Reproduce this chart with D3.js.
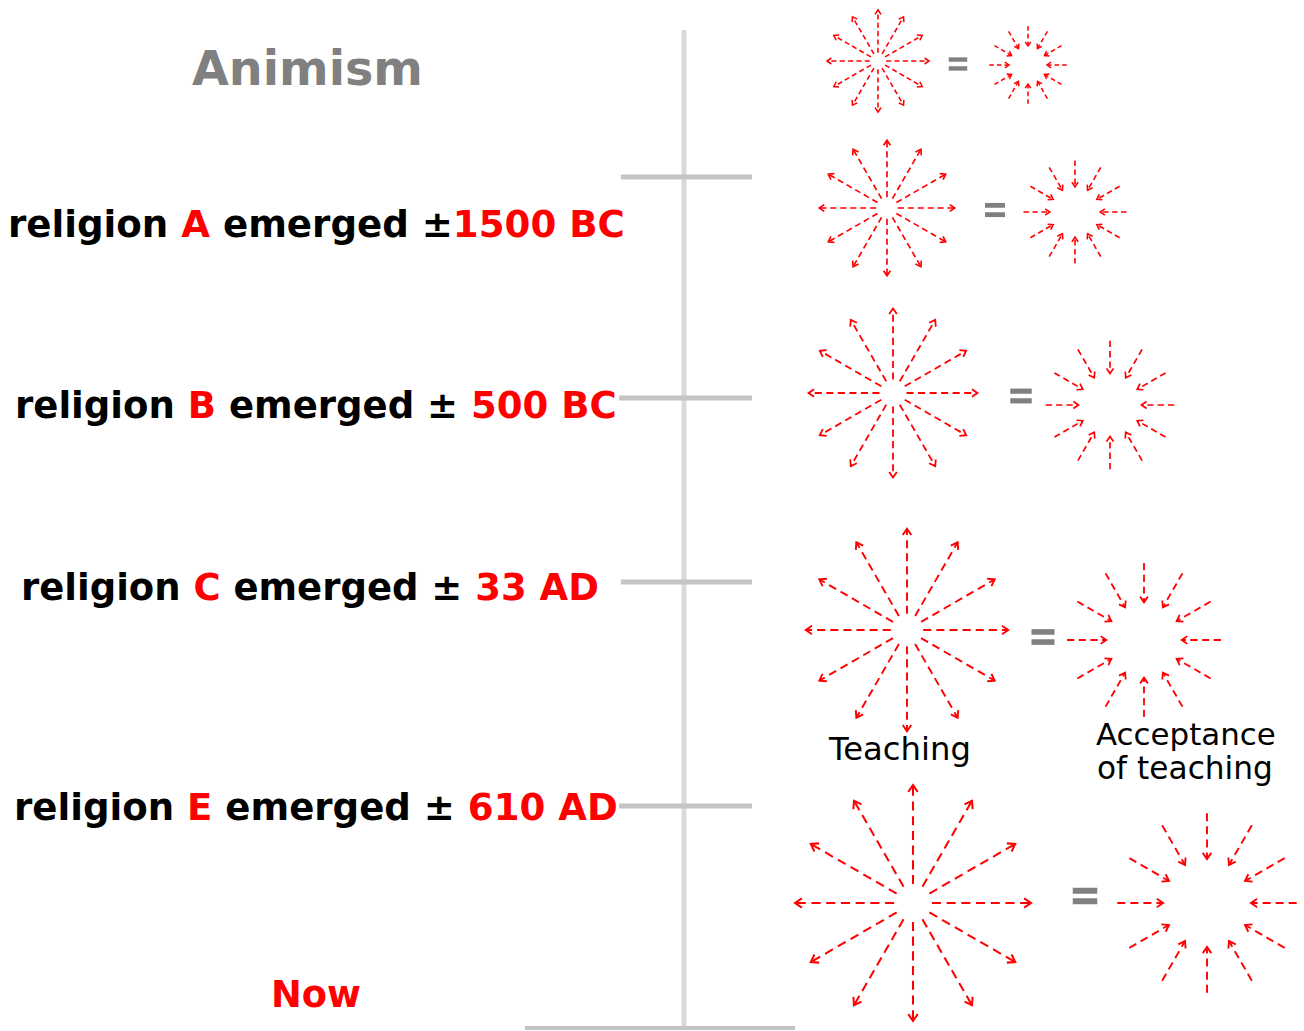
<!DOCTYPE html>
<html><head><meta charset="utf-8">
<script src="https://cdn.jsdelivr.net/npm/d3@7"></script>
<style>html,body{margin:0;padding:0;background:#fff;}svg{display:block;}</style>
</head><body>
<svg id="chart" width="1304" height="1031"></svg>
<script>
// ---------- DATA ----------
const title = "Animism";
const religionLetters = ["A", "B", "C", "E"];
const plusMinusTexts = ["±", "± ", "± ", "± "];
const emergedDates = ["1500 BC", "500 BC", "33 AD", "610 AD"];
const nowLabel = "Now";
const stages = [1, 2, 3, 4, 5];           // animism + 4 religions, growing reach
const teachingLabel = "Teaching";
const acceptanceLabel = ["Acceptance", "of teaching"];

// ---------- LAYOUT ----------
const W = 1304, H = 1031;
const svg = d3.select("#chart");
const red = "#ff0000", gray = "#808080";
const boldFont = "'DejaVu Sans', Verdana, sans-serif";

// timeline
const axisX = 684;
const tickY = [177, 398, 582, 806];
const tickX0 = [621, 619, 621, 619];
const labelBox = [[8, 625, 237], [15, 617, 418], [21, 599, 600], [14, 618, 820]];

svg.append("line").attr("x1", axisX).attr("x2", axisX).attr("y1", 30).attr("y2", 1028)
  .attr("stroke", "#d9d9d9").attr("stroke-width", 5);
svg.selectAll("line.tick").data(tickY).join("line").attr("class", "tick")
  .attr("x1", (d, i) => tickX0[i]).attr("x2", 752).attr("y1", d => d).attr("y2", d => d)
  .attr("stroke", "#c4c4c4").attr("stroke-width", 5);
svg.append("line").attr("x1", 525).attr("x2", 795).attr("y1", 1028).attr("y2", 1028)
  .attr("stroke", "#c4c4c4").attr("stroke-width", 4);

function fitText(sel, target) {
  const fs = +sel.attr("font-size");
  const len = sel.node().getComputedTextLength();
  sel.attr("font-size", fs * target / len);
}

// title
const t = svg.append("text").attr("x", 192).attr("y", 85).attr("font-family", boldFont)
  .attr("font-weight", "bold").attr("font-size", 47).attr("fill", gray).text(title);
fitText(t, 231);

// religion labels
religionLetters.forEach((L, i) => {
  const [x0, x1, by] = labelBox[i];
  const tx = svg.append("text").attr("x", x0).attr("y", by).attr("font-family", boldFont)
    .attr("font-weight", "bold").attr("font-size", 36).attr("fill", "#000");
  tx.append("tspan").text("religion ");
  tx.append("tspan").attr("fill", red).text(L);
  tx.append("tspan").text(" emerged " + plusMinusTexts[i]);
  tx.append("tspan").attr("fill", red).text(emergedDates[i]);
  tx.attr("xml:space", "preserve").style("white-space", "pre");
  fitText(tx, x1 - x0);
});

const nw = svg.append("text").attr("x", 271).attr("y", 1007).attr("font-family", boldFont)
  .attr("font-weight", "bold").attr("font-size", 36).attr("fill", red).text(nowLabel);
fitText(nw, 90);

// ---------- BURSTS ----------
const rOut = d3.scaleLinear().domain([1, 5]).range([51, 118]);
const outC = [[878, 61], [887, 208], [893, 393], [907, 630], [913, 903]];
const inC = [[1028, 65], [1075, 212], [1110, 405], [1144, 640], [1207, 903]];
const eqC = [[958, 64], [995, 210], [1021, 396], [1043, 637], [1085, 896]];
const angles = d3.range(12).map(k => k * Math.PI / 6);

function arrow(g, x1, y1, x2, y2, R) {
  const sw = 1.2 + 0.007 * R;
  const dash = 2 + 0.06 * R, gap = 1.5 + 0.035 * R;
  g.append("line").attr("x1", x1).attr("y1", y1).attr("x2", x2).attr("y2", y2)
    .attr("stroke", red).attr("stroke-width", sw).attr("stroke-dasharray", `${dash},${gap}`);
  const a = Math.atan2(y2 - y1, x2 - x1);
  const h = 3 + 0.045 * R, sp = 0.6;
  const p1 = [x2 - h * Math.cos(a - sp), y2 - h * Math.sin(a - sp)];
  const p2 = [x2 - h * Math.cos(a + sp), y2 - h * Math.sin(a + sp)];
  g.append("path").attr("d", `M${p1}L${x2},${y2}L${p2}`).attr("fill", "none")
    .attr("stroke", red).attr("stroke-width", sw).attr("stroke-linejoin", "miter");
}

stages.forEach((s, i) => {
  const R = rOut(s);
  const g = svg.append("g");
  const [cx, cy] = outC[i];
  angles.forEach(a => {
    const c = Math.cos(a), sn = Math.sin(a);
    arrow(g, cx + c * R * 0.16, cy + sn * R * 0.16, cx + c * R, cy + sn * R, R);
  });
  const Ro = R * 0.76, Ri = Ro * 0.49;
  const [ix, iy] = inC[i];
  angles.forEach(a => {
    const c = Math.cos(a), sn = Math.sin(a);
    arrow(g, ix + c * Ro, iy + sn * Ro, ix + c * Ri, iy + sn * Ri, R * 0.85);
  });
  // equals sign
  const [ex, ey] = eqC[i];
  const ew = 17 + 1.5 * s, eh = 4 + 0.4 * s, eg = 4.5;
  [-1, 1].forEach(k => {
    g.append("rect").attr("x", ex - ew / 2).attr("y", ey + k * (eg / 2 + eh / 2) - eh / 2)
      .attr("width", ew).attr("height", eh).attr("fill", gray);
  });
});

// captions
const regFont = "'DejaVu Sans', Verdana, sans-serif";
const tc = svg.append("text").attr("x", 829).attr("y", 760).attr("font-family", regFont)
  .attr("font-size", 30).attr("fill", "#000").text(teachingLabel);
fitText(tc, 142);
acceptanceLabel.forEach((s, i) => {
  const tt = svg.append("text").attr("x", i ? 1097 : 1096).attr("y", i ? 779 : 745)
    .attr("font-family", regFont).attr("font-size", 30).attr("fill", "#000").text(s);
  fitText(tt, i ? 176 : 180);
});
</script>
</body></html>
